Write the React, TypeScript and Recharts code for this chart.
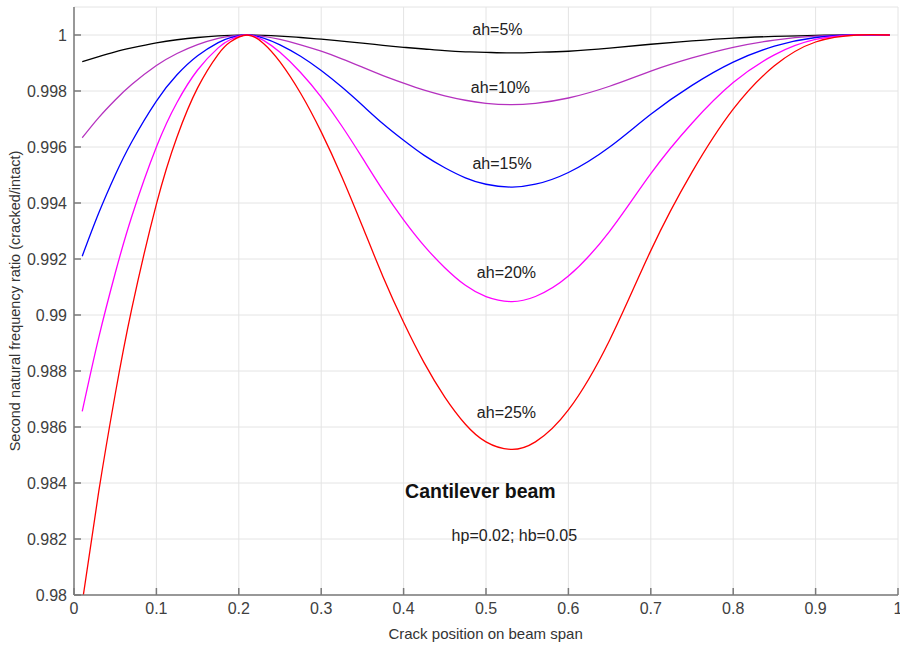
import React from 'react';
import { LineChart, Line, XAxis, YAxis, CartesianGrid, ReferenceDot, Label } from 'recharts';

// Crack position on beam span (normalised)
const crackPos = [0.01, 0.03, 0.05, 0.07, 0.1, 0.125, 0.15, 0.175, 0.19, 0.21, 0.23, 0.25, 0.275, 0.3, 0.325, 0.35, 0.375, 0.4, 0.425, 0.45, 0.475, 0.5, 0.53, 0.56, 0.6, 0.65, 0.7, 0.75, 0.8, 0.85, 0.9, 0.95, 0.99];

// Second natural frequency ratio (cracked/intact) for each crack depth
const ah5 = [0.99905, 0.99923, 0.9994, 0.99954, 0.99972, 0.99983, 0.99991, 0.99997, 0.99999, 1.0, 0.99999, 0.99996, 0.99991, 0.99985, 0.99978, 0.99971, 0.99963, 0.99956, 0.9995, 0.99944, 0.9994, 0.99938, 0.99936, 0.99938, 0.99942, 0.99953, 0.99967, 0.99979, 0.99989, 0.99995, 0.99999, 1.0, 1.0];
const ah10 = [0.99633, 0.99705, 0.99768, 0.99823, 0.99891, 0.99934, 0.99966, 0.99988, 0.99996, 1.0, 0.99995, 0.99984, 0.99965, 0.99942, 0.99915, 0.99885, 0.99855, 0.99828, 0.99803, 0.99783, 0.99767, 0.99756, 0.99751, 0.99756, 0.99775, 0.99817, 0.99871, 0.99918, 0.99956, 0.99982, 0.99996, 1.0, 1.0];
const ah15 = [0.9921, 0.99364, 0.995, 0.99618, 0.99764, 0.99858, 0.99926, 0.99973, 0.99991, 1.0, 0.99989, 0.99965, 0.99924, 0.99873, 0.99814, 0.99749, 0.99683, 0.99624, 0.9957, 0.99526, 0.9949, 0.99467, 0.99457, 0.99467, 0.99509, 0.996, 0.99717, 0.9982, 0.99903, 0.9996, 0.99991, 1.0, 1.0];
const ah20 = [0.98656, 0.98919, 0.99149, 0.99351, 0.996, 0.99759, 0.99875, 0.99954, 0.99984, 1.0, 0.99981, 0.99938, 0.99866, 0.99778, 0.99675, 0.99561, 0.99445, 0.9934, 0.99247, 0.99169, 0.99106, 0.99066, 0.99048, 0.99066, 0.99139, 0.99299, 0.99505, 0.99685, 0.9983, 0.99929, 0.99984, 1.0, 1.0];
const ah25 = [0.97973, 0.98369, 0.98717, 0.99021, 0.99396, 0.99636, 0.99811, 0.99931, 0.99976, 1.0, 0.9997, 0.99904, 0.99792, 0.99654, 0.99494, 0.99317, 0.99137, 0.98974, 0.98829, 0.98707, 0.9861, 0.98547, 0.9852, 0.98547, 0.98661, 0.9891, 0.9923, 0.9951, 0.99735, 0.9989, 0.99975, 1.0, 1.0];

const seriesNames = ['ah=5%', 'ah=10%', 'ah=15%', 'ah=20%', 'ah=25%'];
const seriesKeys = ['ah5', 'ah10', 'ah15', 'ah20', 'ah25'];
const seriesColors = ['#000000', '#b532bf', '#0000ff', '#ff00ff', '#ff0000'];

const xTicks = [0, 0.1, 0.2, 0.3, 0.4, 0.5, 0.6, 0.7, 0.8, 0.9, 1];
const yTicks = [0.98, 0.982, 0.984, 0.986, 0.988, 0.99, 0.992, 0.994, 0.996, 0.998, 1];

const data = crackPos.map((x, i) => ({
  x,
  ah5: ah5[i],
  ah10: ah10[i],
  ah15: ah15[i],
  ah20: ah20[i],
  ah25: ah25[i],
}));

const FONT = '"Liberation Sans", Arial, Helvetica, sans-serif';
const fmt = (v: number) => String(parseFloat(v.toFixed(3)));

// annotation anchor positions (data coordinates)
const annotations = [
  { text: seriesNames[0], x: 0.5138, y: 1.000214 },
  { text: seriesNames[1], x: 0.5175, y: 0.998143 },
  { text: seriesNames[2], x: 0.5195, y: 0.995411 },
  { text: seriesNames[3], x: 0.5248, y: 0.991518 },
  { text: seriesNames[4], x: 0.5248, y: 0.986518 },
];

export default function App() {
  const axisStroke = { stroke: '#7a7a7a', strokeWidth: 1.5 };
  return (
    <div style={{ width: 900, height: 648, background: '#fff' }}>
      <style>{'body{margin:0;background:#fff}'}</style>
      <LineChart width={900} height={648} data={data} margin={{ top: 7, right: 2, left: 0, bottom: 8 }}>
        <CartesianGrid stroke="#e4e4e4" strokeWidth={1} />
        <XAxis
          type="number"
          dataKey="x"
          domain={[0, 1]}
          ticks={xTicks}
          interval={0}
          allowDataOverflow
          tickFormatter={fmt}
          axisLine={axisStroke}
          tickLine={axisStroke}
          tickSize={-7}
          tickMargin={15}
          height={45}
          tick={{ fill: '#404040', fontSize: 16, fontFamily: FONT }}
        >
          <Label
            content={() => (
              <text x={485.6} y={633} textAnchor="middle" dominantBaseline="central" fill="#333" fontSize={15} fontFamily={FONT}>
                Crack position on beam span
              </text>
            )}
          />
        </XAxis>
        <YAxis
          type="number"
          domain={[0.98, 1.001]}
          ticks={yTicks}
          interval={0}
          allowDataOverflow
          tickFormatter={fmt}
          axisLine={axisStroke}
          tickLine={axisStroke}
          tickSize={-7}
          tickMargin={14}
          width={74}
          tick={{ fill: '#404040', fontSize: 16, fontFamily: FONT }}
        >
          <Label
            content={() => (
              <text x={15} y={301} transform="rotate(-90 15 301)" textAnchor="middle" dominantBaseline="central" fill="#333" fontSize={14.5} fontFamily={FONT}>
                Second natural frequency ratio (cracked/intact)
              </text>
            )}
          />
        </YAxis>
        {seriesKeys.map((k, i) => (
          <Line
            key={k}
            type="natural"
            dataKey={k}
            name={seriesNames[i]}
            stroke={seriesColors[i]}
            strokeWidth={1.3}
            dot={false}
            activeDot={false}
            isAnimationActive={false}
          />
        ))}
        {annotations.map((a) => (
          <ReferenceDot
            key={a.text}
            x={a.x}
            y={a.y}
            r={0}
            fill="none"
            stroke="none"
            label={{ value: a.text, position: 'center', fill: '#222', fontSize: 16, fontFamily: FONT }}
          />
        ))}
        <ReferenceDot
          x={0.4932}
          y={0.983714}
          r={0}
          fill="none"
          stroke="none"
          label={{ value: 'Cantilever beam', position: 'center', fill: '#111', fontSize: 19.5, fontWeight: 'bold', fontFamily: FONT }}
        />
        <ReferenceDot
          x={0.5344}
          y={0.982143}
          r={0}
          fill="none"
          stroke="none"
          label={{ value: 'hp=0.02; hb=0.05', position: 'center', fill: '#222', fontSize: 16, fontFamily: FONT }}
        />
      </LineChart>
    </div>
  );
}
